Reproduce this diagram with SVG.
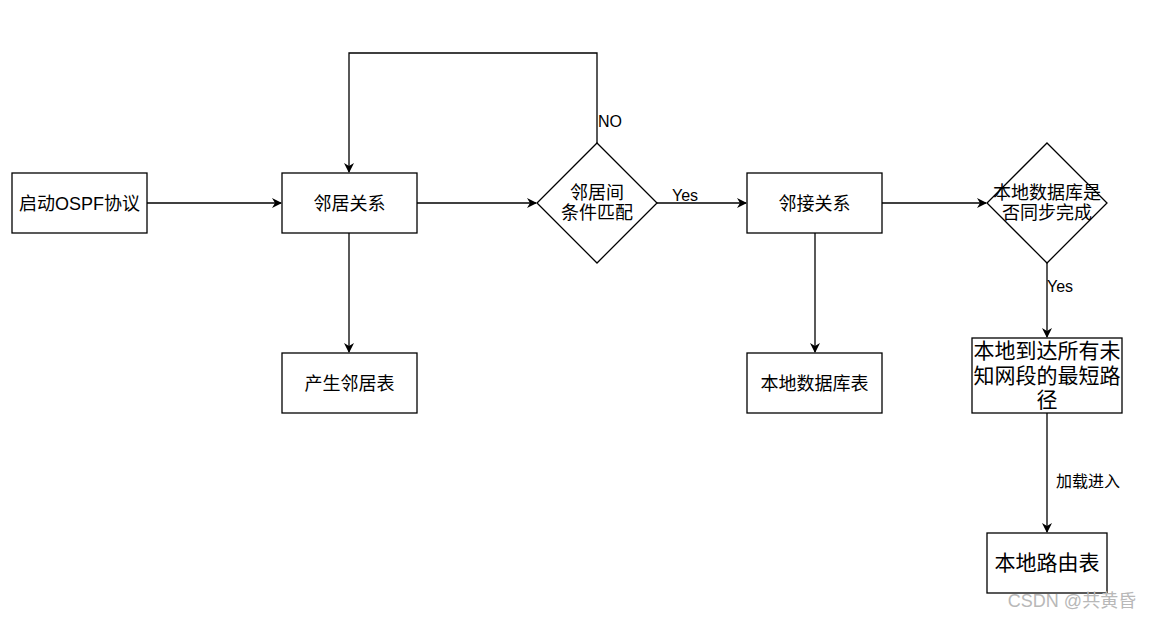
<svg xmlns="http://www.w3.org/2000/svg" width="1154" height="620" viewBox="0 0 1154 620">
<defs>
<marker id="ah" markerWidth="10" markerHeight="10" refX="9" refY="5" orient="auto" markerUnits="userSpaceOnUse">
<path d="M0,0 L10,5 L0,10 L3,5 Z" fill="#000"/>
</marker>
<style>
.n{fill:#fff;stroke:#000;stroke-width:1.3}
.t{font-family:"Liberation Sans","Noto Sans CJK SC",sans-serif;font-size:18px;fill:#000;text-anchor:middle}
.tl{font-family:"Liberation Sans","Noto Sans CJK SC",sans-serif;font-size:21px;fill:#000;text-anchor:middle}
.e{fill:none;stroke:#000;stroke-width:1.3;marker-end:url(#ah)}
.lb{font-family:"Liberation Sans","Noto Sans CJK SC",sans-serif;font-size:16px;fill:#000}
</style>
</defs>
<rect width="1154" height="620" fill="#fff"/>
<g id="connectors">
<path class="e" d="M147,203 H281"/>
<path class="e" d="M417,203 H536"/>
<path class="e" d="M597,143 V53 H349 V172"/>
<path class="e" d="M349,233 V352"/>
<path class="e" d="M657,203 H746"/>
<path class="e" d="M882,203 H986"/>
<path class="e" d="M815,233 V352"/>
<path class="e" d="M1047,263 V337"/>
<path class="e" d="M1047,413 V532"/>
<text class="lb" x="598" y="127">NO</text>
<text class="lb" x="672" y="201">Yes</text>
<text class="lb" x="1047" y="292">Yes</text>
<text class="lb" x="1056" y="487" font-size="17">加载进入</text>
</g>
<g id="n1"><rect class="n" x="12" y="173" width="135" height="60"/><text class="t" x="79.5" y="210">启动OSPF协议</text></g>
<g id="n2"><rect class="n" x="282" y="173" width="135" height="60"/><text class="t" x="349.5" y="210">邻居关系</text></g>
<g id="n3"><path class="n" d="M597,143 L657,203 L597,263 L537,203 Z"/><text class="t" x="597" y="199">邻居间</text><text class="t" x="597" y="219">条件匹配</text></g>
<g id="n4"><rect class="n" x="747" y="173" width="135" height="60"/><text class="t" x="814.5" y="210">邻接关系</text></g>
<g id="n5"><path class="n" d="M1047,143 L1107,203 L1047,263 L987,203 Z"/><text class="t" x="1047" y="199">本地数据库是</text><text class="t" x="1047" y="219">否同步完成</text></g>
<g id="n6"><rect class="n" x="282" y="353" width="135" height="60"/><text class="t" x="349.5" y="390">产生邻居表</text></g>
<g id="n7"><rect class="n" x="747" y="353" width="135" height="60"/><text class="t" x="814.5" y="390">本地数据库表</text></g>
<g id="n8"><rect class="n" x="972" y="338" width="150" height="75"/><text class="tl" x="1047" y="358">本地到达所有未</text><text class="tl" x="1047" y="383">知网段的最短路</text><text class="tl" x="1047" y="407">径</text></g>
<g id="n9"><rect class="n" x="987" y="533" width="120" height="60"/><text class="tl" x="1047" y="570">本地路由表</text></g>
<text x="1072" y="607" font-family="Liberation Sans,'Noto Sans CJK SC',sans-serif" font-size="18" fill="#b8b8b8" text-anchor="middle">CSDN @共黄昏</text>
</svg>
